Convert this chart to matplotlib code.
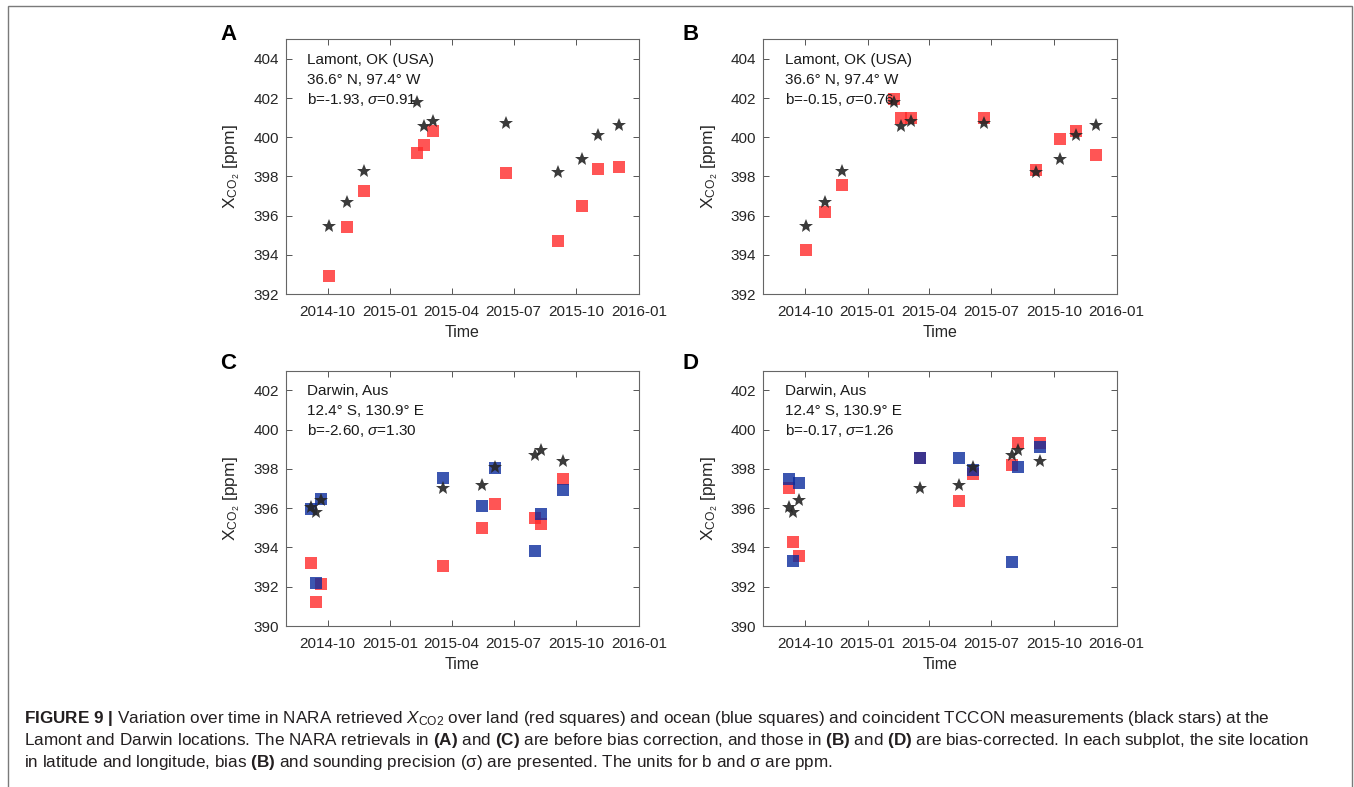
import matplotlib
matplotlib.use('Agg')
import matplotlib.pyplot as plt
import matplotlib.dates as mdates
from matplotlib.patches import Rectangle
import numpy as np

plt.rcParams['font.family'] = ['Liberation Sans', 'DejaVu Sans']
plt.rcParams['mathtext.fontset'] = 'custom'
plt.rcParams['mathtext.rm'] = 'Liberation Sans'
plt.rcParams['mathtext.it'] = 'Liberation Sans:italic'
plt.rcParams['mathtext.bf'] = 'Liberation Sans:bold'

# Lamont, OK -- TCCON and NARA land soundings share the same days
lamont_dates = ['2014-10-03', '2014-10-30', '2014-11-24', '2015-02-09', '2015-02-19', '2015-03-05',
                '2015-06-20', '2015-09-04', '2015-10-10', '2015-11-02', '2015-12-02']
lamont_tccon = [395.49, 396.68, 398.28, 401.79, 400.58, 400.83, 400.71, 398.25, 398.91, 400.10, 400.63]
lamont_land_raw = [392.92, 395.40, 397.24, 399.22, 399.61, 400.34, 398.16, 394.72, 396.48, 398.37, 398.47]
lamont_land_cor = [394.23, 396.17, 397.57, 401.97, 401.00, 400.97, 401.00, 398.31, 399.93, 400.32, 399.11]

# Darwin, Aus
darwin_dates = ['2014-09-07', '2014-09-14', '2014-09-22', '2015-03-19', '2015-05-15', '2015-06-04',
                '2015-08-01', '2015-08-10', '2015-09-11']
darwin_tccon = [396.05, 395.83, 396.41, 397.05, 397.17, 398.11, 398.69, 398.94, 398.41]
darwin_land_raw = [393.20, 391.22, 392.12, 393.06, 395.01, 396.22, 395.52, 395.20, 397.46]
darwin_ocean_raw = [395.97, 392.18, 396.46, 397.53, 396.09, 398.04, 393.81, 395.71, 396.95]
darwin_land_cor = [397.02, 394.30, 393.57, 398.58, 396.34, 397.75, 398.18, 399.30, 399.33]
darwin_ocean_cor = [397.48, 393.30, 397.26, 398.58, 398.57, 397.94, 393.28, 398.11, 399.14]

panel_letters = ['A', 'B', 'C', 'D']
site_text = [['Lamont, OK (USA)', '36.6° N, 97.4° W', r'b=-1.93, $\mathit{\sigma}$=0.91'],
             ['Lamont, OK (USA)', '36.6° N, 97.4° W', r'b=-0.15, $\mathit{\sigma}$=0.76'],
             ['Darwin, Aus', '12.4° S, 130.9° E', r'b=-2.60, $\mathit{\sigma}$=1.30'],
             ['Darwin, Aus', '12.4° S, 130.9° E', r'b=-0.17, $\mathit{\sigma}$=1.26']]

W, H = 1354, 787
fig = plt.figure(figsize=(W / 100, H / 100), dpi=100)

def px(l, t, r, b):
    return [l / W, 1 - b / H, (r - l) / W, (b - t) / H]

axes = [fig.add_axes(px(286, 39.3, 639, 294)),
        fig.add_axes(px(763.3, 39.3, 1116.7, 294)),
        fig.add_axes(px(286, 370.7, 639, 626)),
        fig.add_axes(px(763.3, 370.7, 1116.7, 626))]

ld = np.array(lamont_dates, dtype='datetime64[D]')
dd = np.array(darwin_dates, dtype='datetime64[D]')

red = '#ff2a2a'
blue = '#0b2c9c'
star = '#262626'

sq = dict(marker='s', ms=9, ls='none', mew=0)
st = dict(marker='*', ms=10.5, ls='none', mew=0, color=star, alpha=0.9)

axes[0].plot(ld, lamont_land_raw, color=red, alpha=0.8, **sq)
axes[0].plot(ld, lamont_tccon, **st)
axes[1].plot(ld, lamont_land_cor, color=red, alpha=0.8, **sq)
axes[1].plot(ld, lamont_tccon, **st)
axes[2].plot(dd, darwin_land_raw, color=red, alpha=0.8, **sq)
axes[2].plot(dd, darwin_ocean_raw, color=blue, alpha=0.8, **sq)
axes[2].plot(dd, darwin_tccon, **st)
axes[3].plot(dd, darwin_land_cor, color=red, alpha=0.8, **sq)
axes[3].plot(dd, darwin_ocean_cor, color=blue, alpha=0.8, **sq)
axes[3].plot(dd, darwin_tccon, **st)

xticks = np.array(['2014-10-01', '2015-01-01', '2015-04-01', '2015-07-01', '2015-10-01', '2016-01-01'],
                  dtype='datetime64[D]')

for i, ax in enumerate(axes):
    ax.set_xlim(np.datetime64('2014-08-01'), np.datetime64('2016-01-01'))
    if i < 2:
        ax.set_ylim(392, 405)
        ax.set_yticks(np.arange(392, 405, 2))
    else:
        ax.set_ylim(390, 403)
        ax.set_yticks(np.arange(390, 403, 2))
    ax.set_xticks(xticks)
    ax.xaxis.set_major_formatter(mdates.DateFormatter('%Y-%m'))
    ax.tick_params(direction='in', top=True, right=True, length=4, width=0.7,
                   color='#555555', labelcolor='#262626', labelsize=11)
    ax.tick_params(axis='x', pad=8)
    ax.tick_params(axis='y', pad=5)
    for s in ax.spines.values():
        s.set_color('#666666')
        s.set_linewidth(0.8)
    ax.set_xlabel('Time', fontsize=11.5, color='#262626', labelpad=4)
    ax.set_ylabel(r'X$_{\mathregular{CO_2}}$ [ppm]', fontsize=12.5, color='#262626', labelpad=8)
    for k, line in enumerate(site_text[i]):
        ax.text(0.06, 0.919 - k * 0.077, line, transform=ax.transAxes, fontsize=11,
                va='center', ha='left', color='#1a1a1a')

letter_pos = [(220, 35), (683, 35), (220, 363), (683, 363)]
for lt, (x, y) in zip(panel_letters, letter_pos):
    fig.text(x / W, 1 - y / H, lt, fontsize=16, fontweight='bold', va='center', ha='left')

caption = [r'$\mathbf{FIGURE\ 9\ |}$ Variation over time in NARA retrieved $\mathit{X}_{\mathrm{CO2}}$ over land (red squares) and ocean (blue squares) and coincident TCCON measurements (black stars) at the',
           r'Lamont and Darwin locations. The NARA retrievals in $\mathbf{(A)}$ and $\mathbf{(C)}$ are before bias correction, and those in $\mathbf{(B)}$ and $\mathbf{(D)}$ are bias-corrected. In each subplot, the site location',
           r'in latitude and longitude, bias $\mathbf{(B)}$ and sounding precision (σ) are presented. The units for b and σ are ppm.']
cap_y = [719, 741, 762]
for line, y in zip(caption, cap_y):
    fig.text(24 / W, 1 - y / H, line, fontsize=12.3, va='center', ha='left', color='#231f20')

fig.add_artist(Rectangle((8 / W, -0.1), (1352 - 8) / W, 1.1 - 6 / H, transform=fig.transFigure,
                         fill=False, ec='#7a7a7a', lw=1))

fig.savefig('out.png', dpi=100)
